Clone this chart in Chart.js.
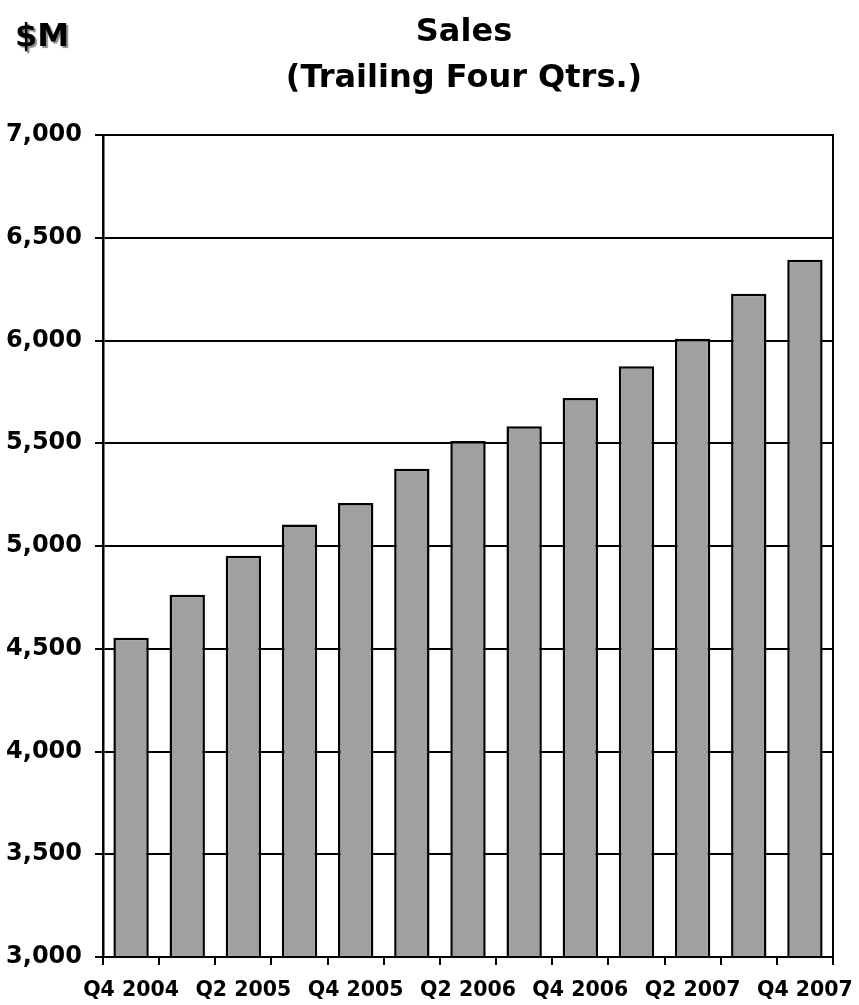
<!DOCTYPE html>
<html>
<head>
<meta charset="utf-8">
<script src="https://cdn.jsdelivr.net/npm/chart.js@4"></script>
<style>
  html, body { margin: 0; padding: 0; background: #fff; }
  #wrap { width: 859px; height: 1005px; }
</style>
</head>
<body>
<div id="wrap"><canvas id="c" width="859" height="1005"></canvas></div>
<script>
const categories = ['Q4 2004','Q1 2005','Q2 2005','Q3 2005','Q4 2005','Q1 2006','Q2 2006','Q3 2006','Q4 2006','Q1 2007','Q2 2007','Q3 2007','Q4 2007'];
const salesValues = [4553, 4763, 4952, 5105, 5209, 5376, 5511, 5583, 5720, 5875, 6008, 6227, 6393];
const titleLines = ['Sales', '(Trailing Four Qtrs.)'];
const unitLabel = '$M';
const yMin = 3000, yMax = 7000, yStep = 500;

const FONT = "'DejaVu Sans', Verdana, sans-serif";

const decorPlugin = {
  id: 'decor',
  afterDraw(chart) {
    const ctx = chart.ctx;
    const a = chart.chartArea;
    ctx.save();
    // plot frame
    ctx.strokeStyle = '#000';
    ctx.lineWidth = 2;
    ctx.strokeRect(a.left, a.top, a.right - a.left, a.bottom - a.top);
    // title
    ctx.fillStyle = '#000';
    ctx.textAlign = 'center';
    ctx.textBaseline = 'middle';
    ctx.font = 'bold 32px ' + FONT;
    const cx = (a.left + a.right) / 2 - 4;
    ctx.fillText(titleLines[0], cx, 33);
    ctx.fillText(titleLines[1], cx, 79);
    // $M with shadow
    ctx.textAlign = 'left';
    ctx.shadowColor = 'rgba(0,0,0,0.45)';
    ctx.shadowOffsetX = 2;
    ctx.shadowOffsetY = 2;
    ctx.shadowBlur = 1;
    ctx.fillText(unitLabel, 15, 38);
    ctx.restore();
  }
};

new Chart(document.getElementById('c'), {
  type: 'bar',
  data: {
    labels: categories,
    datasets: [{
      data: salesValues,
      backgroundColor: '#a0a0a0',
      borderColor: '#000',
      borderWidth: 2.5,
      borderSkipped: 'start',
      barPercentage: 0.63,
      categoryPercentage: 1
    }]
  },
  options: {
    responsive: false,
    animation: false,
    layout: { padding: { top: 135, right: 26, left: 0, bottom: 0 } },
    plugins: { legend: { display: false }, title: { display: false }, tooltip: { enabled: false } },
    scales: {
      x: {
        offset: true,
        grid: { display: true, drawOnChartArea: false, offset: true, color: '#000', lineWidth: 2, tickLength: 8 },
        border: { display: true, color: '#000', width: 2 },
        ticks: {
          autoSkip: false, maxRotation: 0, minRotation: 0, padding: 13,
          color: '#000', font: { family: FONT, size: 20.5, weight: 'bold' },
          callback: (v, i) => (i % 2 === 0 ? categories[i] : '')
        },
        afterFit(scale) { scale.height = 48; scale.paddingLeft = 0; scale.paddingRight = 0; }
      },
      y: {
        min: yMin, max: yMax,
        grid: { color: '#000', lineWidth: 2, tickLength: 8 },
        border: { display: true, color: '#000', width: 2.5 },
        ticks: {
          stepSize: yStep, padding: 13, color: '#000',
          font: { family: FONT, size: 24, weight: 'bold' },
          callback: (v) => v.toLocaleString('en-US')
        },
        afterFit(scale) { scale.width = 103; }
      }
    }
  },
  plugins: [decorPlugin]
});
</script>
</body>
</html>
